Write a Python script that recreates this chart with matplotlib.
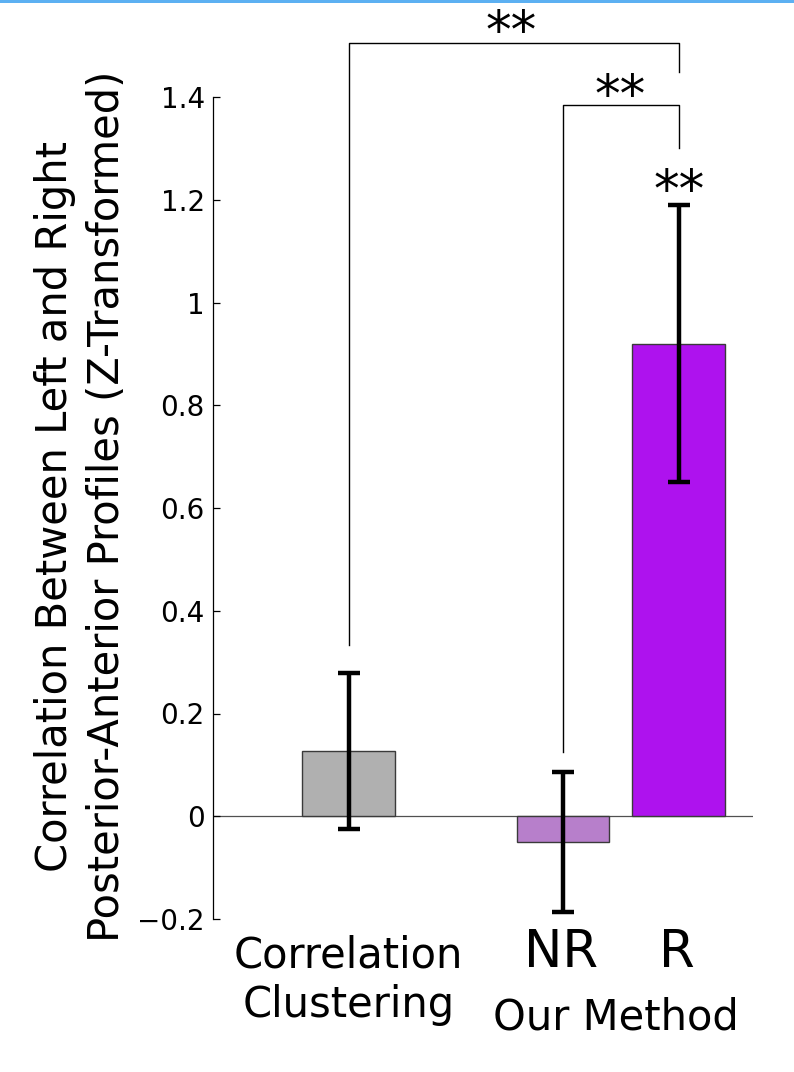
import matplotlib
matplotlib.use('Agg')
import matplotlib.pyplot as plt
import matplotlib.transforms as mtransforms
from matplotlib.patches import Rectangle

# values
groups = ["NR", "R"]
group_colors = ["#b0b0b0", "#b77fcb", "#ae12ee"]
means = [0.127, -0.050, 0.920]
errors = [0.152, 0.136, 0.270]
ytick_values = [-0.2, 0, 0.2, 0.4, 0.6, 0.8, 1.0, 1.2, 1.4]
ytick_labels = ["\u22120.2", "0", "0.2", "0.4", "0.6", "0.8", "1", "1.2", "1.4"]

# significance brackets: (left bar, right bar), top, left end, right end
bracket_pairs = [(0, 2), (1, 2)]
bracket_tops = [1.506, 1.385]
bracket_left_ends = [0.333, 0.125]
bracket_right_ends = [1.449, 1.300]
star_label = "**"

xpos = [1.0, 2.85, 3.85]
W, H = 794, 1072

fig = plt.figure(figsize=(W / 100, H / 100), dpi=100)
ax = fig.add_axes([213 / W, 1 - 919 / H, 540 / W, 822 / H])

# bars + error bars
ax.bar(xpos, means, width=0.8, color=group_colors, edgecolor="#3a3a3a",
       linewidth=1.0, zorder=2)
ax.errorbar(xpos, means, yerr=errors, fmt="none", ecolor="black",
            elinewidth=3.2, capsize=8, capthick=3.2, zorder=3)
ax.axhline(0, color="#505050", linewidth=0.9, zorder=1)

ax.set_xlim(-0.17, 4.49)
ax.set_ylim(-0.2, 1.4)

for s in ["top", "right", "bottom"]:
    ax.spines[s].set_visible(False)
ax.spines["left"].set_linewidth(0.9)
ax.set_xticks([])
ax.set_yticks(ytick_values)
ax.set_yticklabels(ytick_labels)
ax.tick_params(axis="y", direction="in", length=5, width=0.9, pad=6,
               labelsize=20)

# brackets above bars
for (i, j), top, lo, hi in zip(bracket_pairs, bracket_tops,
                                bracket_left_ends, bracket_right_ends):
    ax.plot([xpos[i], xpos[i], xpos[j], xpos[j]], [lo, top, top, hi],
            color="black", linewidth=1.0, clip_on=False)

# stars (baseline positions)
ax.text((xpos[0] + xpos[2]) / 2 - 0.02, 1.496, star_label, ha="center",
        va="baseline", fontsize=37, clip_on=False)
ax.text((xpos[1] + xpos[2]) / 2 - 0.01, 1.370, star_label, ha="center",
        va="baseline", fontsize=37, clip_on=False)
ax.text(xpos[2], 1.185, star_label, ha="center", va="baseline",
        fontsize=37, clip_on=False)

# category labels below the axis
trans = mtransforms.blended_transform_factory(ax.transData, fig.transFigure)
ax.text(xpos[0], 1 - 968 / H, "Correlation", transform=trans, ha="center",
        va="baseline", fontsize=30)
ax.text(xpos[0], 1 - 1017 / H, "Clustering", transform=trans, ha="center",
        va="baseline", fontsize=30)
for x, g in zip(xpos[1:], groups):
    ax.text(x - 0.02, 1 - 967 / H, g, transform=trans, ha="center",
            va="baseline", fontsize=37)
ax.text((xpos[1] + xpos[2]) / 2 - 0.04, 1 - 1030 / H, "Our Method",
        transform=trans, ha="center", va="baseline", fontsize=30)

# y label, two centred lines
ymid = 1 - 506 / H
fig.text(67 / W, ymid, "Correlation Between Left and Right", rotation=90,
         rotation_mode="anchor", ha="center", va="baseline", fontsize=30)
fig.text(119 / W, ymid, "Posterior-Anterior Profiles (Z-Transformed)",
         rotation=90, rotation_mode="anchor", ha="center", va="baseline",
         fontsize=30)

# thin blue strip along the top edge
fig.add_artist(Rectangle((0, 1 - 3 / H), 1, 3 / H, transform=fig.transFigure,
                         color="#5cb0f2", linewidth=0))

fig.savefig("out.png", dpi=100)
